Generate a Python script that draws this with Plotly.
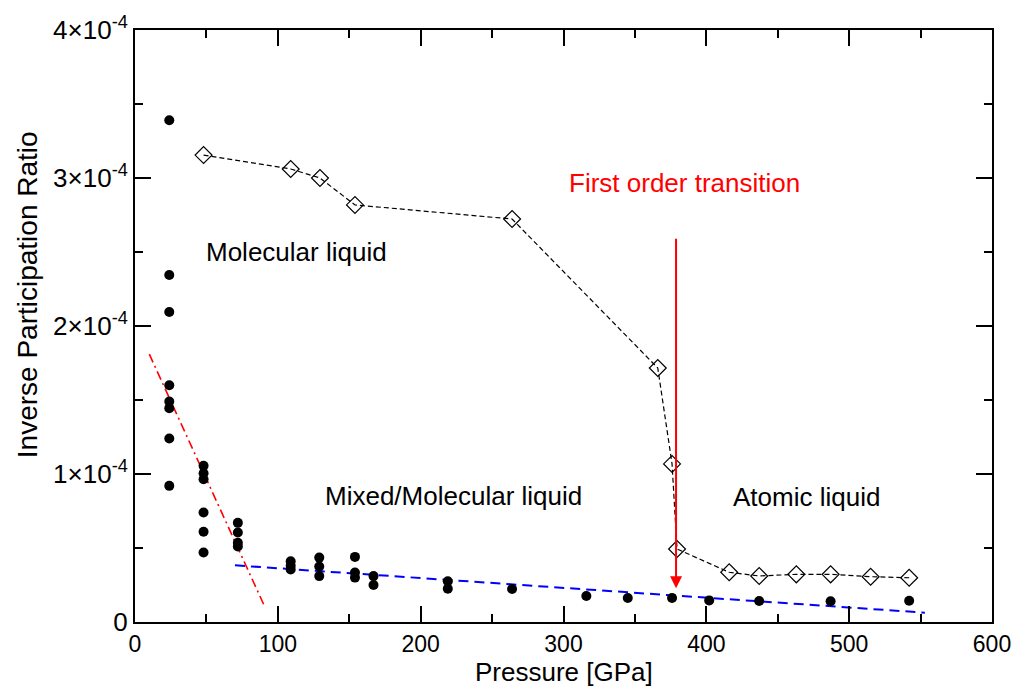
import numpy as np
import plotly.graph_objects as go

SCALE = 1e-4  # IPR values below are given in units of 1e-4

# Filled circles: IPR of individual configurations
p_dots = [24, 24, 24, 24, 24, 24, 24, 24,
          48, 48, 48, 48, 48, 48,
          72, 72, 72, 72,
          109, 109, 109,
          129, 129, 129,
          154, 154, 154,
          167, 167,
          219, 219,
          264, 316, 345, 376, 402, 437, 487, 542]
ipr_dots = [3.39, 2.345, 2.095, 1.60, 1.49, 1.445, 1.24, 0.92,
            1.055, 1.005, 0.965, 0.74, 0.61, 0.47,
            0.67, 0.605, 0.535, 0.51,
            0.41, 0.38, 0.355,
            0.435, 0.375, 0.31,
            0.44, 0.335, 0.30,
            0.31, 0.25,
            0.275, 0.225,
            0.223, 0.176, 0.162, 0.162, 0.146, 0.142, 0.14, 0.144]

# Open diamonds: averaged IPR
p_avg = [48, 109, 129.5, 154, 264, 366, 376, 379.5, 416, 437, 463, 487, 515, 542]
ipr_avg = [3.155, 3.061, 3.0, 2.818, 2.723, 1.716, 1.068, 0.493,
           0.336, 0.311, 0.322, 0.322, 0.306, 0.299]

# Guide lines
p_red = [10, 91]
ipr_red = [1.81, 0.10]
p_blue = [70, 553]
ipr_blue = [0.383, 0.063]

# Transition arrow (x, top, tip)
p_arrow = 378.8
ipr_arrow_top = 2.60
ipr_arrow_tip = 0.228

x_ticks = [0, 100, 200, 300, 400, 500, 600]
y_ticks = [0, 1, 2, 3, 4]
y_ticktext = ["0"] + [f"{v}\u00d710<sup>-4</sup>" for v in y_ticks[1:]]

FONT = "Liberation Sans, Arial, sans-serif"

def s(vals):
    return np.asarray(vals, dtype=float) * SCALE

fig = go.Figure()

fig.add_trace(go.Scatter(
    x=p_red, y=s(ipr_red), mode="lines",
    line=dict(color="red", width=1.6, dash="9px,4px,2px,4px"),
    showlegend=False, hoverinfo="skip"))

fig.add_trace(go.Scatter(
    x=p_blue, y=s(ipr_blue), mode="lines",
    line=dict(color="blue", width=2, dash="10px,6px"),
    showlegend=False, hoverinfo="skip"))

fig.add_trace(go.Scatter(
    x=p_avg, y=s(ipr_avg), mode="lines+markers",
    line=dict(color="black", width=1.2, dash="5px,3px"),
    marker=dict(symbol="diamond-open", size=13, color="black",
                line=dict(width=1.2, color="black")),
    showlegend=False))

fig.add_trace(go.Scatter(
    x=p_dots, y=s(ipr_dots), mode="markers",
    marker=dict(symbol="circle", size=10, color="black"),
    showlegend=False))

# Arrow marking the first order transition
fig.add_annotation(
    x=p_arrow, y=ipr_arrow_tip * SCALE, ax=p_arrow, ay=ipr_arrow_top * SCALE,
    xref="x", yref="y", axref="x", ayref="y",
    text="", showarrow=True, arrowhead=2, arrowsize=1.2, arrowwidth=2,
    arrowcolor="red")

text_font = dict(family=FONT, size=26, color="black")
fig.add_annotation(x=384.4, y=2.966 * SCALE, text="First order transition",
                   showarrow=False, xanchor="center", yanchor="middle",
                   font=dict(family=FONT, size=26, color="red"))
fig.add_annotation(x=48, y=2.5 * SCALE, text="Molecular liquid",
                   showarrow=False, xanchor="left", yanchor="middle", font=text_font)
fig.add_annotation(x=131.6, y=0.851 * SCALE, text="Mixed/Molecular liquid",
                   showarrow=False, xanchor="left", yanchor="middle", font=text_font)
fig.add_annotation(x=417.3, y=0.845 * SCALE, text="Atomic liquid",
                   showarrow=False, xanchor="left", yanchor="middle", font=text_font)

# Axis titles, placed by hand beside the tick labels
fig.add_annotation(x=0, y=0.552, xref="paper", yref="paper", xshift=-108,
                   text="Inverse Participation Ratio", textangle=-90,
                   showarrow=False, xanchor="center", yanchor="middle",
                   font=dict(family=FONT, size=28, color="black"))
fig.add_annotation(x=0.5, y=0, xref="paper", yref="paper", yshift=-50,
                   text="Pressure [GPa]",
                   showarrow=False, xanchor="center", yanchor="middle",
                   font=dict(family=FONT, size=26, color="black"))

axis_common = dict(
    showline=True, linecolor="black", linewidth=2, mirror="allticks",
    ticks="inside", ticklen=16, tickwidth=1.5, tickcolor="black",
    showgrid=False, zeroline=False, automargin=False,
)

fig.update_xaxes(
    range=[0, 600], tickvals=x_ticks,
    tickfont=dict(family=FONT, size=23, color="black"),
    ticklabelstandoff=0,
    minor=dict(ticks="inside", ticklen=8, tickwidth=1.5, tickcolor="black", dtick=50),
    **axis_common)

fig.update_yaxes(
    range=[0, 4 * SCALE], tickvals=s(y_ticks), ticktext=y_ticktext,
    tickfont=dict(family=FONT, size=26, color="black"),
    minor=dict(ticks="inside", ticklen=8, tickwidth=1.5, tickcolor="black",
               dtick=0.5 * SCALE),
    **axis_common)

fig.update_layout(
    width=1025, height=686,
    margin=dict(l=135, r=33, t=30, b=64),
    plot_bgcolor="white", paper_bgcolor="white",
    font=dict(family=FONT, color="black"),
)

fig.write_html("out.html")
